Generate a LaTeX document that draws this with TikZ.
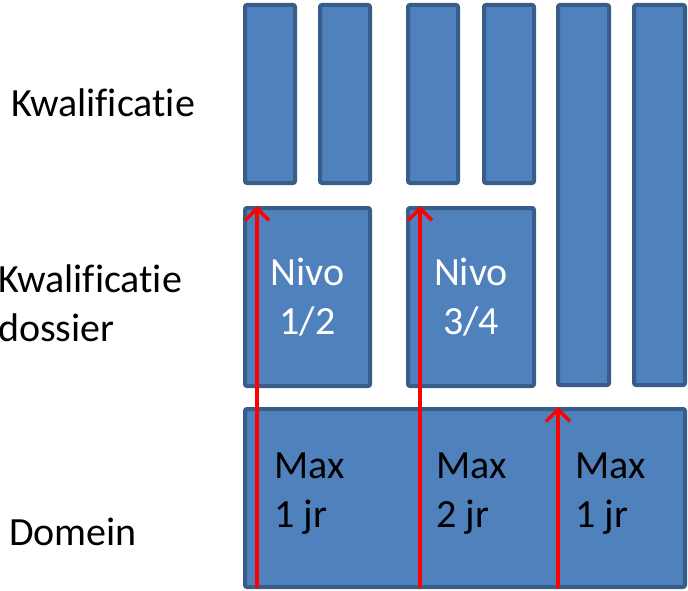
\documentclass[tikz,border=0pt]{standalone}
\usepackage{fontspec}
\setmainfont{Carlito}[Ligatures=NoCommon]
\usepackage{tikz}
\usetikzlibrary{arrows.meta}
\definecolor{blokvul}{HTML}{4F81BD}
\definecolor{blokrand}{HTML}{385D8A}
\tikzset{
  blok/.style={draw=blokrand, fill=blokvul, line width=4pt, rounded corners=2pt, inner sep=0pt},
  wit/.style={text=white, align=center, font=\fontsize{40}{49}\selectfont},
  zwart/.style={text=black, align=left, anchor=west, inner sep=0pt, font=\fontsize{40}{49}\selectfont},
  pijl/.style={red, line width=3.5pt, -{Straight Barb[length=12pt,width=24pt]}}
}
\begin{document}
\begin{tikzpicture}[x=1pt, y=-1pt]
        \useasboundingbox (0,0) rectangle (688,591);
        \node (k1) [blok, minimum width=50pt, minimum height=178pt] at (270, 94) {};
        \node (k2) [blok, minimum width=50pt, minimum height=178pt] at (345, 94) {};
        \node (k3) [blok, minimum width=50pt, minimum height=178pt] at (433, 94) {};
        \node (k4) [blok, minimum width=50pt, minimum height=178pt] at (509, 94) {};
        \node (k5) [blok, minimum width=51pt, minimum height=380pt] at (583.5, 195) {};
        \node (k6) [blok, minimum width=51pt, minimum height=380pt] at (659.5, 195) {};
        \node (nivoA) [blok, wit, minimum width=125pt, minimum height=178pt] at (307.5, 297) {Nivo\\1/2};
        \node (nivoB) [blok, wit, minimum width=126pt, minimum height=178pt] at (471, 297) {Nivo\\3/4};
        \node (domein) [blok, minimum width=440pt, minimum height=178pt] at (465, 498) {};
        \node (max1) [zwart] at (274, 494) {Max\\1 jr};
        \node (max2) [zwart] at (436, 494) {Max\\2 jr};
        \node (max3) [zwart] at (575, 494) {Max\\1 jr};
        \node (lkwal) [zwart] at (11, 103) {Kwalificatie};
        \node (ldos) [zwart] at (-2, 303) {Kwalificatie\\dossier};
        \node (ldom) [zwart] at (9, 532) {Domein};
        \coordinate (s1) at (257, 588);
        \coordinate (s2) at (420, 588);
        \coordinate (s3) at (558, 588);
        \draw[pijl] (s1) -- (s1 |- nivoA.north);
        \draw[pijl] (s2) -- (s2 |- nivoB.north);
        \draw[pijl] (s3) -- (s3 |- domein.north);
\end{tikzpicture}
\end{document}
